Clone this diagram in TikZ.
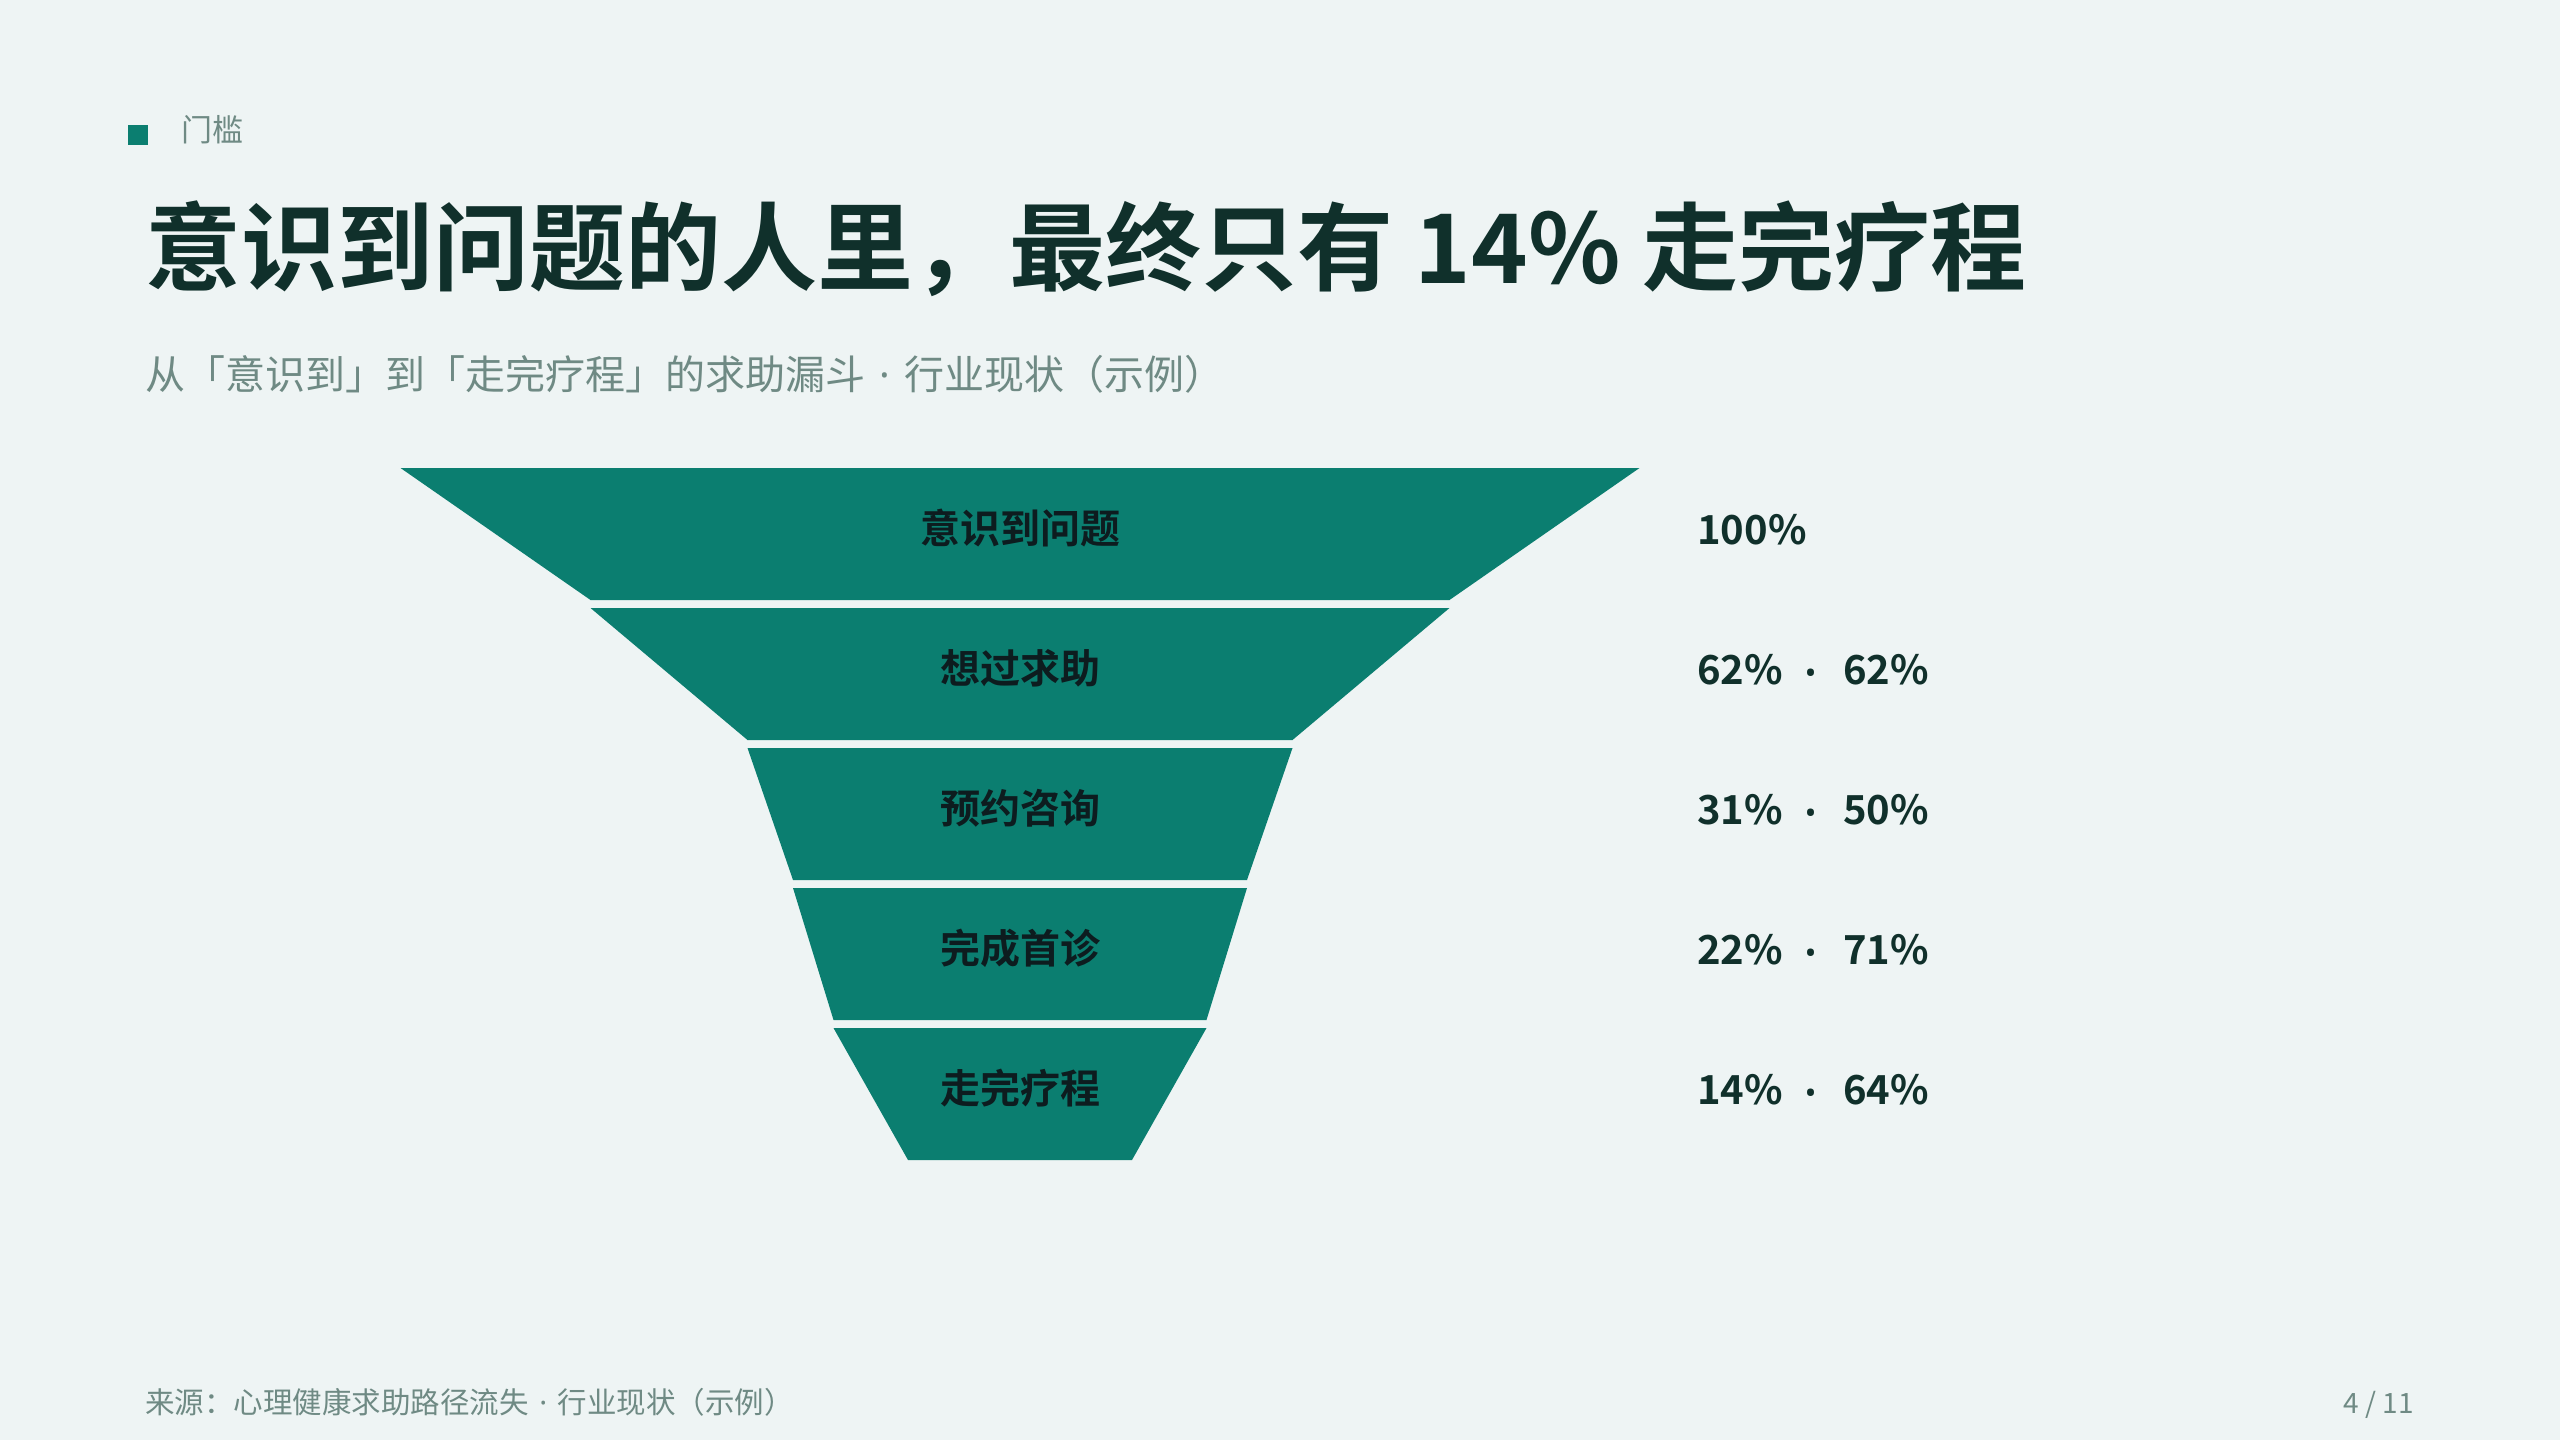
\documentclass[tikz,border=0pt]{standalone}
\usepackage{fontspec}
\setmainfont{Noto Sans CJK SC}[BoldFont={Noto Sans CJK SC Bold}]
\newfontfamily\latinfont{Noto Sans}

\definecolor{bgc}{HTML}{EEF4F4}
\definecolor{funnelc}{HTML}{0B7E70}
\definecolor{inkc}{HTML}{10302B}
\definecolor{mutedc}{HTML}{6F8A84}
\definecolor{stagec}{HTML}{0D1C1F}

\newcommand{\middot}{{\latinfont\hspace{0.36em}·\hspace{0.36em}}}

\tikzstyle{band} = [fill=funnelc]
\tikzstyle{stage} = [font=\fontsize{40}{48}\selectfont\bfseries, text=stagec, inner sep=0pt]
\tikzstyle{pct} = [font=\fontsize{40}{48}\selectfont\bfseries, text=inkc, inner sep=0pt]
\tikzstyle{muted} = [text=mutedc, inner sep=0pt]

\begin{document}
\begin{tikzpicture}[x=1pt, y=-1pt]
\fill[bgc] (0,0) rectangle (2560,1440);
\useasboundingbox (0,0) rectangle (2560,1440);

% header
\fill[funnelc] (128,125) rectangle (148,145);
\node[muted, anchor=west, font=\fontsize{31}{36}\selectfont] (tag) at (181,130) {门槛};
\node[anchor=west, inner sep=0pt, text=inkc, font=\fontsize{96}{110}\selectfont\bfseries] (title) at (145,249) {意识到问题的人里，最终只有 14\% 走完疗程};
\node[muted, anchor=west, font=\fontsize{40}{46}\selectfont] (subtitle) at (145,374) {从「意识到」到「走完疗程」的求助漏斗\middot 行业现状（示例）};

% funnel
\foreach \i/\wt/\wb/\lab in {0/1239/859/意识到问题, 1/859/545/想过求助, 2/545/454/预约咨询, 3/454/373/完成首诊, 4/373/224/走完疗程} {
	\pgfmathsetmacro\yt{468+140*\i}
	\pgfmathsetmacro\yb{\yt+132}
	\fill[band] (1020-\wt/2,\yt) -- (1020+\wt/2,\yt) -- (1020+\wb/2,\yb) -- (1020-\wb/2,\yb) -- cycle;
	\node[stage] (stage\i) at (1020,\yt+60) {\lab};
}

% shares
\node[pct, anchor=base west] (share0) at (1697,544) {100\%};
\foreach \i/\share/\rate in {1/62/62, 2/31/50, 3/22/71, 4/14/64} {
	\pgfmathsetmacro\yc{544+140*\i}
	\node[pct, anchor=base west] (share\i) at (1697,\yc) {\share\%};
	\node[pct, anchor=base, font=\fontsize{56}{60}\selectfont\latinfont\bfseries] (dot\i) at (1811,\yc+8) {·};
	\node[pct, anchor=base west] (rate\i) at (1843,\yc) {\rate\%};
}

% footer
\node[muted, anchor=west, font=\fontsize{29.5}{34}\selectfont] (source) at (145,1402) {来源：心理健康求助路径流失\middot 行业现状（示例）};
\node[muted, anchor=base east, font=\fontsize{28}{34}\selectfont] (page) at (2414,1413) {4 / 11};
\end{tikzpicture}
\end{document}
